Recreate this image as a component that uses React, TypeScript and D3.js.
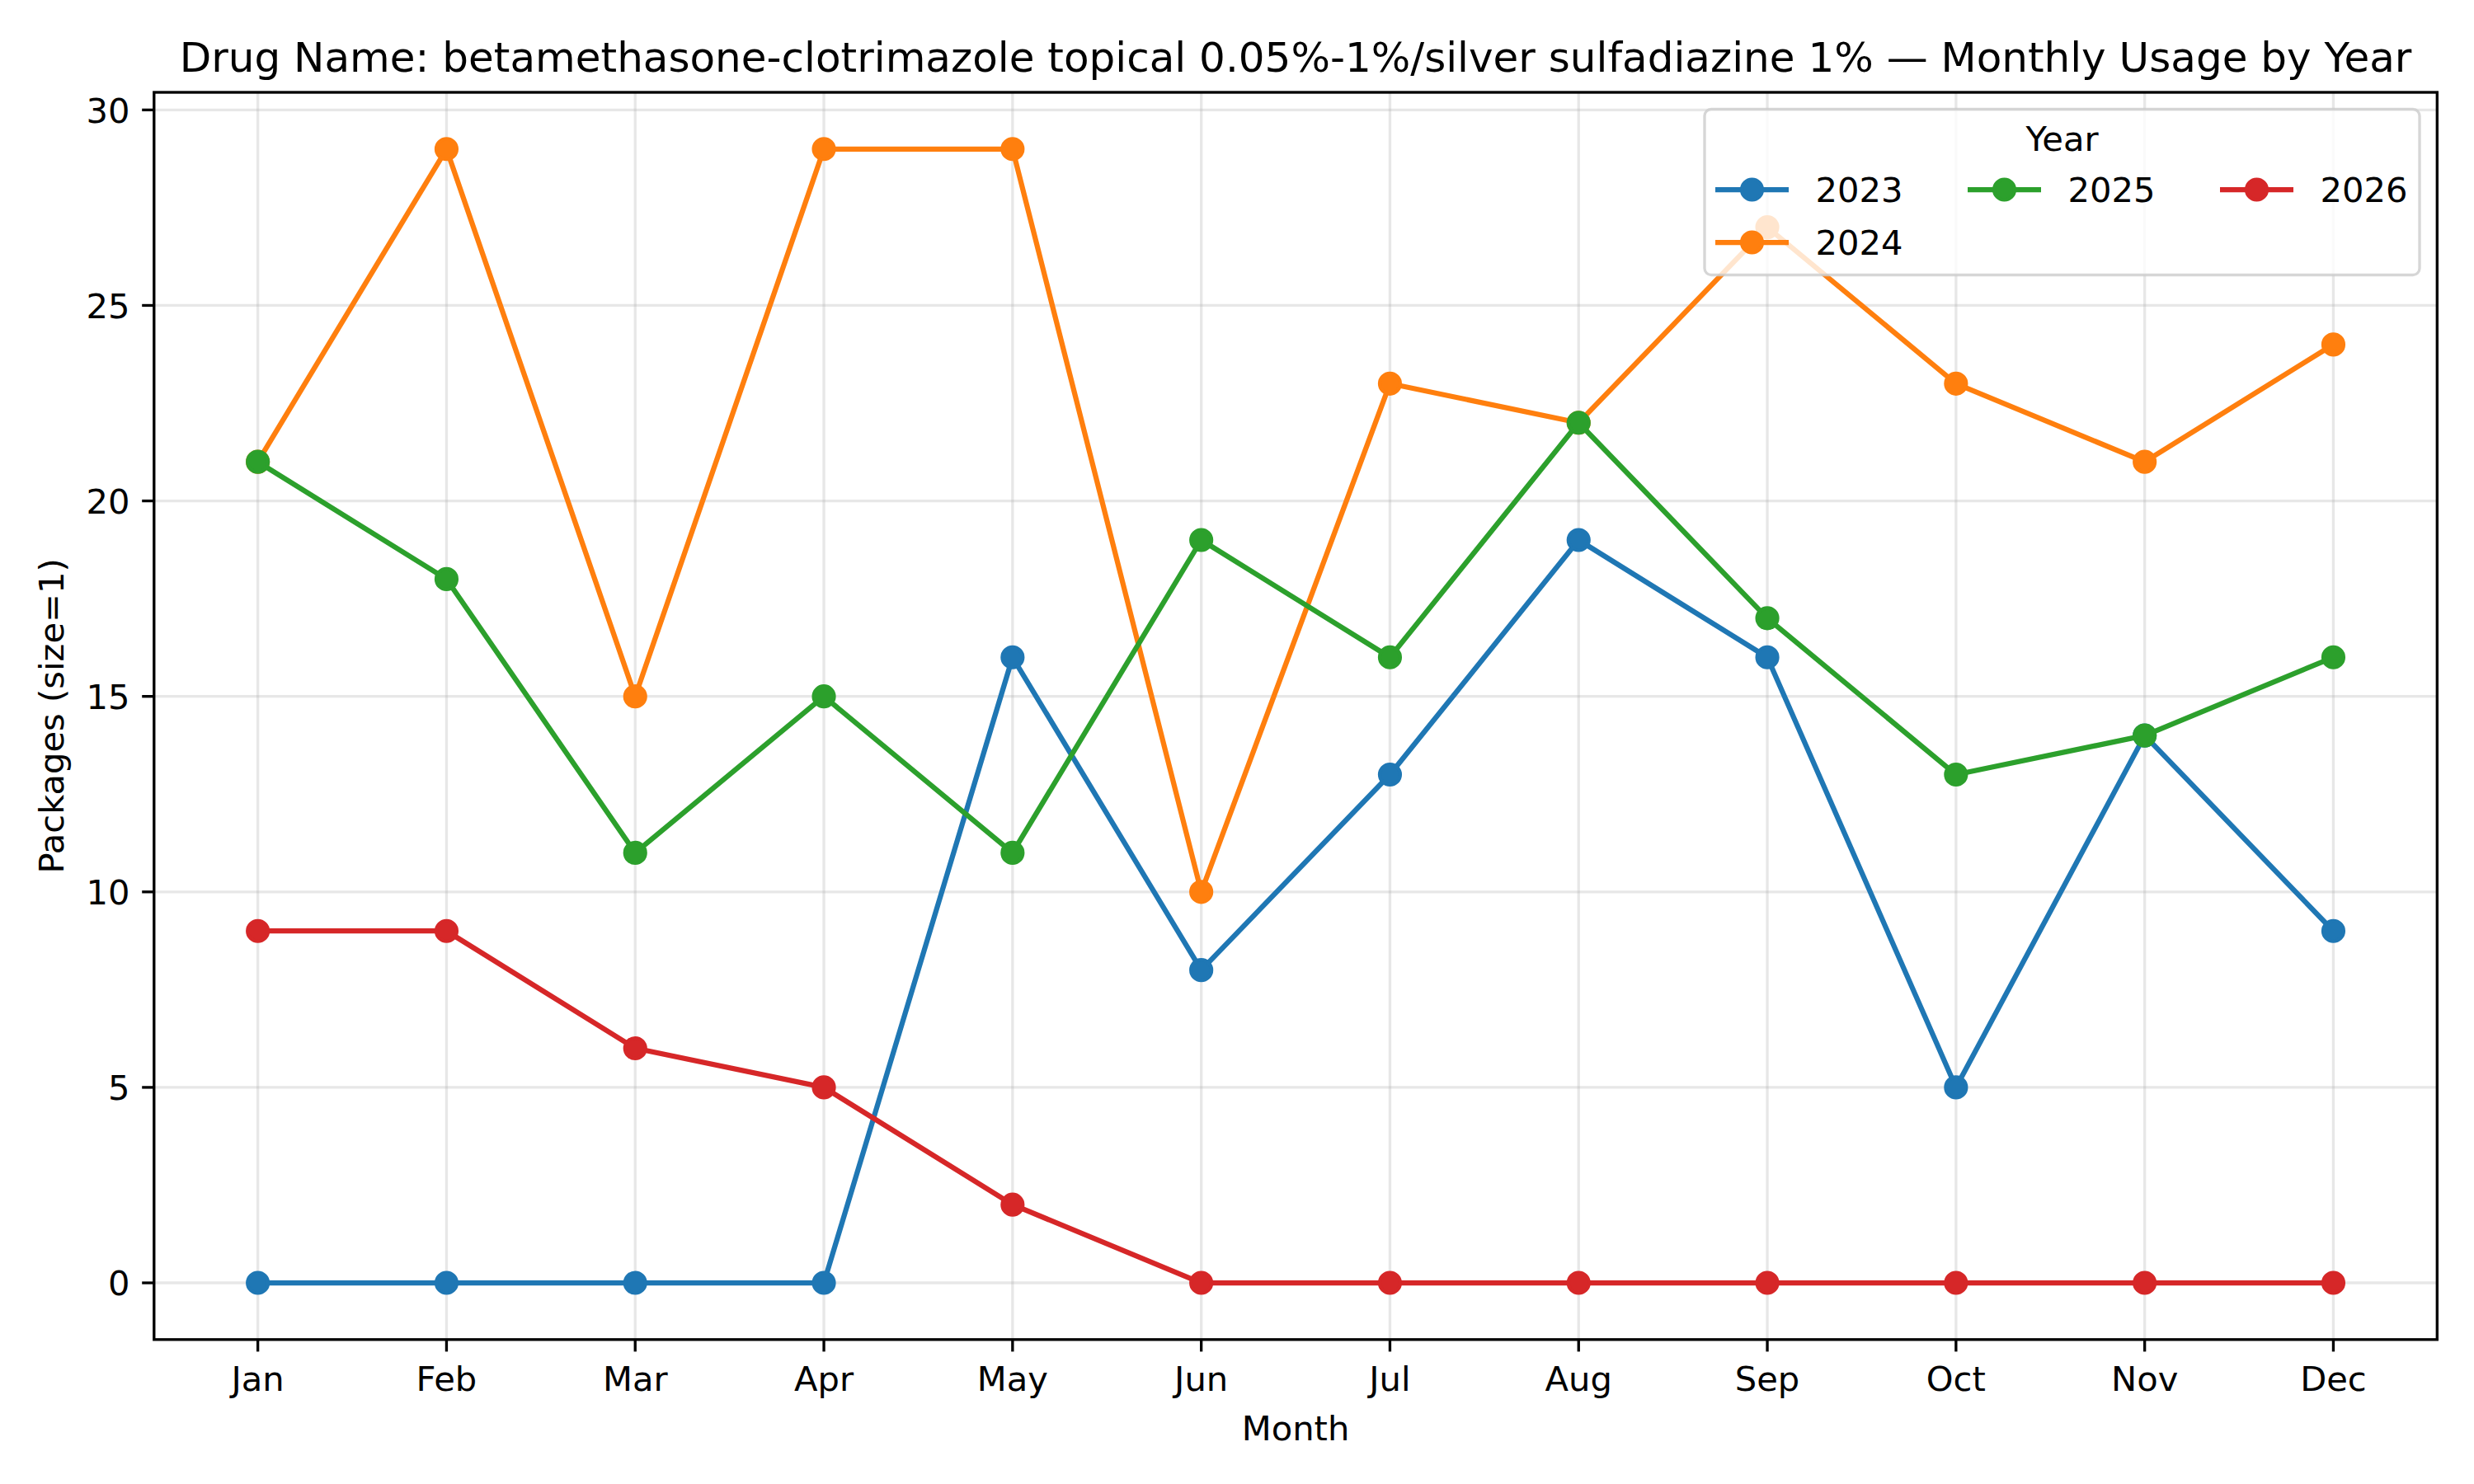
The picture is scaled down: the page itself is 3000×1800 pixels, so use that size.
import React from "react";
import * as d3 from "d3";

const months = ["Jan", "Feb", "Mar", "Apr", "May", "Jun", "Jul", "Aug", "Sep", "Oct", "Nov", "Dec"];
const years = ["2023", "2024", "2025", "2026"];
const usage2023 = [0, 0, 0, 0, 16, 8, 13, 19, 16, 5, 14, 9];
const usage2024 = [21, 29, 15, 29, 29, 10, 23, 22, 27, 23, 21, 24];
const usage2025 = [21, 18, 11, 15, 11, 19, 16, 22, 17, 13, 14, 16];
const usage2026 = [9, 9, 6, 5, 2, 0, 0, 0, 0, 0, 0, 0];
const yTicks = [0, 5, 10, 15, 20, 25, 30];
const colors = ["#1f77b4", "#ff7f0e", "#2ca02c", "#d62728"];

const seriesValues = [usage2023, usage2024, usage2025, usage2026];

const W = 3000;
const H = 1800;
const left = 186.8;
const right = 2955.3;
const top = 112;
const bottom = 1624.8;
const font = "DejaVu Sans, sans-serif";
const fs = 41.67;

export default function App() {
  const x = d3.scaleLinear().domain([-0.55, 11.55]).range([left, right]);
  const y = d3.scaleLinear().domain([-1.45, 30.45]).range([bottom, top]);
  const line = d3
    .line<number>()
    .x((_, i) => x(i))
    .y((d) => y(d));

  const lw = 6.25;
  const r = 12.5;
  const tick = 14.6;
  const spine = 3.33;

  // legend layout
  const lgLeft = 2067;
  const lgRight = 2934;
  const lgTop = 132.5;
  const lgBottom = 333.5;
  const colX = [2080, 2386, 2692];
  const rowY = [230, 294];
  const legendPos = [
    { c: 0, r: 0 },
    { c: 0, r: 1 },
    { c: 1, r: 0 },
    { c: 2, r: 0 },
  ];

  return (
    <svg
      width={W}
      height={H}
      style={{ display: "block", position: "absolute", left: 0, top: 0 }}
      fontFamily={font}
    >
      <rect x={0} y={0} width={W} height={H} fill="#ffffff" />
      {/* grid */}
      <g stroke="#b0b0b0" strokeOpacity={0.3} strokeWidth={3.33}>
        {months.map((m, i) => (
          <line key={m} x1={x(i)} x2={x(i)} y1={top} y2={bottom} />
        ))}
        {yTicks.map((t) => (
          <line key={t} x1={left} x2={right} y1={y(t)} y2={y(t)} />
        ))}
      </g>
      {/* series */}
      {seriesValues.map((vals, si) => (
        <g key={years[si]}>
          <path d={line(vals) || ""} fill="none" stroke={colors[si]} strokeWidth={lw} strokeLinejoin="round" strokeLinecap="square" />
          {vals.map((v, i) => (
            <circle key={i} cx={x(i)} cy={y(v)} r={r} fill={colors[si]} stroke={colors[si]} strokeWidth={4.17} />
          ))}
        </g>
      ))}
      {/* spines */}
      <rect x={left} y={top} width={right - left} height={bottom - top} fill="none" stroke="#000" strokeWidth={spine} strokeLinejoin="miter" />
      {/* x ticks */}
      {months.map((m, i) => (
        <g key={m}>
          <line x1={x(i)} x2={x(i)} y1={bottom} y2={bottom + tick} stroke="#000" strokeWidth={spine} />
          <text x={x(i)} y={1686.5} fontSize={fs} textAnchor="middle" fill="#000">
            {m}
          </text>
        </g>
      ))}
      {/* y ticks */}
      {yTicks.map((t) => (
        <g key={t}>
          <line x1={left - tick} x2={left} y1={y(t)} y2={y(t)} stroke="#000" strokeWidth={spine} />
          <text x={left - tick - 14.6} y={y(t) + 15.2} fontSize={fs} textAnchor="end" fill="#000">
            {t}
          </text>
        </g>
      ))}
      {/* axis labels */}
      <text x={(left + right) / 2} y={1746.5} fontSize={fs} textAnchor="middle" fill="#000">
        Month
      </text>
      <text
        transform={`translate(77,${(top + bottom) / 2}) rotate(-90)`}
        fontSize={fs}
        textAnchor="middle"
        fill="#000"
      >
        Packages (size=1)
      </text>
      {/* title */}
      <text x={(left + right) / 2} y={87} fontSize={50} textAnchor="middle" fill="#000">
        Drug Name: betamethasone-clotrimazole topical 0.05%-1%/silver sulfadiazine 1% — Monthly Usage by Year
      </text>
      {/* legend */}
      <rect
        x={lgLeft}
        y={lgTop}
        width={lgRight - lgLeft}
        height={lgBottom - lgTop}
        rx={8}
        ry={8}
        fill="#ffffff"
        fillOpacity={0.8}
        stroke="#cccccc"
        strokeOpacity={0.8}
        strokeWidth={3.33}
      />
      <text x={(lgLeft + lgRight) / 2} y={182.7} fontSize={fs} textAnchor="middle" fill="#000">
        Year
      </text>
      {years.map((yr, si) => {
        const p = legendPos[si];
        const hx = colX[p.c];
        const hy = rowY[p.r];
        return (
          <g key={yr}>
            <line x1={hx} x2={hx + 89} y1={hy} y2={hy} stroke={colors[si]} strokeWidth={lw} />
            <circle cx={hx + 44.5} cy={hy} r={r} fill={colors[si]} stroke={colors[si]} strokeWidth={4.17} />
            <text x={hx + 121.5} y={hy + 15.2} fontSize={fs} fill="#000">
              {yr}
            </text>
          </g>
        );
      })}
    </svg>
  );
}
